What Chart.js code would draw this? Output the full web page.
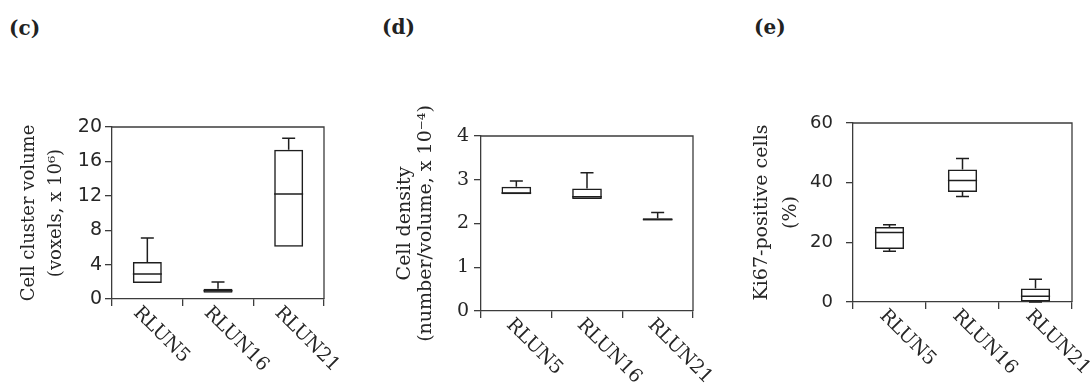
<!DOCTYPE html>
<html><head><meta charset="utf-8">
<script src="https://cdn.jsdelivr.net/npm/chart.js@4.4.1/dist/chart.umd.min.js"></script>
<style>
html,body{margin:0;padding:0;background:#fff;}
#wrap{position:relative;width:1091px;height:389px;overflow:hidden;background:#fff;}
canvas{position:absolute;left:0;top:0;}
.plabel{position:absolute;font-family:"DejaVu Serif",serif;font-weight:bold;font-size:20px;line-height:22px;color:#222;}
</style></head>
<body><div id="wrap">
<div class="plabel" style="left:9px;top:17px">(c)</div>
<div class="plabel" style="left:382px;top:16px">(d)</div>
<div class="plabel" style="left:754px;top:16px">(e)</div>
<canvas id="cC" width="1091" height="389"></canvas>
<canvas id="cD" width="1091" height="389"></canvas>
<canvas id="cE" width="1091" height="389"></canvas>
</div>
<script>
// ---- data ----
const categories = ['RLUN5', 'RLUN16', 'RLUN21'];

const volumeMin    = [1.85, 0.73, 6.07];
const volumeQ1     = [1.85, 0.73, 6.07];
const volumeMedian = [2.90, 0.95, 12.2];
const volumeQ3     = [4.30, 1.20, 17.35];
const volumeMax    = [7.10, 1.97, 18.7];
const volumeTicks  = [0, 4, 8, 12, 16, 20];

const densityMin    = [2.67, 2.56, 2.07];
const densityQ1     = [2.67, 2.56, 2.07];
const densityMedian = [2.70, 2.61, 2.09];
const densityQ3     = [2.84, 2.80, 2.12];
const densityMax    = [2.97, 3.16, 2.25];
const densityTicks  = [0, 1, 2, 3, 4];

const ki67Min    = [17.0, 35.4, 0.0];
const ki67Q1     = [17.8, 36.9, 0.2];
const ki67Median = [23.3, 40.7, 1.9];
const ki67Q3     = [25.1, 44.4, 4.5];
const ki67Max    = [25.9, 48.1, 7.6];
const ki67Ticks  = [0, 20, 40, 60];

// ---- styling ----
const SERIF = "'DejaVu Serif', serif";
const SANS = "'DejaVu Sans', sans-serif";
const AXIS_COLOR = '#3c3c3c';
const BOX_COLOR = '#1e1e1e';
const TEXT_COLOR = '#262626';

const boxPlugin = {
  id: 'boxWhiskers',
  afterDatasetsDraw(chart, args, opts) {
    const {ctx, scales: {x, y}} = chart;
    const meta = chart.getDatasetMeta(0);
    ctx.save();
    ctx.strokeStyle = BOX_COLOR;
    ctx.lineWidth = 1.5;
    meta.data.forEach((bar, i) => {
      const cx = x.getPixelForValue(i);
      const half = bar.width / 2;
      const cap = 6.5;
      const yMed = y.getPixelForValue(opts.median[i]);
      const yQ1 = y.getPixelForValue(opts.q1[i]);
      const yQ3 = y.getPixelForValue(opts.q3[i]);
      const yMax = y.getPixelForValue(opts.max[i]);
      const yMin = y.getPixelForValue(opts.min[i]);
      ctx.beginPath();
      ctx.moveTo(cx - half, yMed); ctx.lineTo(cx + half, yMed);
      ctx.moveTo(cx, yQ3); ctx.lineTo(cx, yMax);
      ctx.moveTo(cx - cap, yMax); ctx.lineTo(cx + cap, yMax);
      if (opts.min[i] < opts.q1[i]) {
        ctx.moveTo(cx, yQ1); ctx.lineTo(cx, yMin);
        ctx.moveTo(cx - cap, yMin); ctx.lineTo(cx + cap, yMin);
      }
      ctx.stroke();
    });
    ctx.restore();
  }
};

const framePlugin = {
  id: 'frameLabels',
  afterDraw(chart, args, opts) {
    const {ctx, chartArea: a, scales: {x}} = chart;
    ctx.save();
    ctx.strokeStyle = AXIS_COLOR;
    ctx.lineWidth = 1.3;
    ctx.beginPath();
    ctx.moveTo(a.left, a.top); ctx.lineTo(a.right, a.top); ctx.lineTo(a.right, a.bottom);
    ctx.stroke();
    ctx.fillStyle = TEXT_COLOR;
    ctx.font = opts.font;
    ctx.textAlign = 'left';
    ctx.textBaseline = 'middle';
    categories.forEach((c, i) => {
      const cx = x.getPixelForValue(i);
      ctx.save();
      ctx.translate(cx + opts.dx, a.bottom + opts.dy);
      ctx.rotate(Math.PI / 4);
      ctx.fillText(c, 0, 0);
      ctx.restore();
    });
    ctx.restore();
  }
};

function makePanel(id, cfg) {
  const zeroPad = s => { s.paddingTop = 0; s.paddingBottom = 0; s.paddingLeft = 0; s.paddingRight = 0; };
  return new Chart(document.getElementById(id), {
    type: 'bar',
    data: {
      labels: categories,
      datasets: [{
        data: cfg.q1.map((v, i) => [v, cfg.q3[i]]),
        backgroundColor: 'rgba(255,255,255,0)',
        borderColor: BOX_COLOR,
        borderWidth: 1.5,
        borderSkipped: false,
        categoryPercentage: 1,
        barPercentage: cfg.barPct
      }]
    },
    options: {
      responsive: false,
      devicePixelRatio: 1,
      animation: false,
      events: [],
      layout: {padding: {left: cfg.padLeft, top: cfg.area.top, right: 1091 - cfg.area.right, bottom: 389 - cfg.area.bottom - 10}},
      plugins: {
        legend: {display: false},
        tooltip: {enabled: false},
        boxWhiskers: {min: cfg.min, q1: cfg.q1, median: cfg.median, q3: cfg.q3, max: cfg.max},
        frameLabels: {font: '19px ' + SERIF, dx: cfg.labelDx, dy: cfg.labelDy}
      },
      scales: {
        x: {
          offset: true,
          afterFit(s) { s.height = 10; zeroPad(s); },
          ticks: {display: false},
          grid: {offset: true, drawOnChartArea: false, drawTicks: true, tickLength: 7, color: AXIS_COLOR, lineWidth: 1.3},
          border: {display: true, color: AXIS_COLOR, width: 1.3}
        },
        y: {
          min: cfg.ticks[0],
          max: cfg.ticks[cfg.ticks.length - 1],
          afterFit(s) { s.width = cfg.area.left - cfg.padLeft; zeroPad(s); },
          afterBuildTicks(s) { s.ticks = cfg.ticks.map(v => ({value: v})); },
          ticks: {font: {family: cfg.tickFont, size: cfg.tickSize}, color: TEXT_COLOR, padding: cfg.tickPad},
          grid: {drawOnChartArea: false, drawTicks: true, tickLength: 7, color: AXIS_COLOR, lineWidth: 1.3},
          border: {display: true, color: AXIS_COLOR, width: 1.3},
          title: {display: true, text: cfg.title, color: TEXT_COLOR, padding: 0,
                  font: {family: SERIF, size: cfg.titleSize, lineHeight: cfg.titleLH / cfg.titleSize}}
        }
      }
    },
    plugins: [boxPlugin, framePlugin]
  });
}

makePanel('cC', {
  q1: volumeQ1, q3: volumeQ3, min: volumeMin, max: volumeMax, median: volumeMedian,
  ticks: volumeTicks, area: {left: 112, right: 324, top: 127, bottom: 299},
  titleSize: 18, titleLH: 27, padLeft: 29 - 13.5, barPct: 0.41,
  title: ['Cell cluster volume', '(voxels, x 10\u2076)'],
  tickFont: SANS, tickSize: 19, tickPad: 3, labelDx: -11, labelDy: 11
});
makePanel('cD', {
  q1: densityQ1, q3: densityQ3, min: densityMin, max: densityMax, median: densityMedian,
  ticks: densityTicks, area: {left: 481, right: 693, top: 136, bottom: 311},
  titleSize: 19, titleLH: 21, padLeft: 405 - 10.5, barPct: 0.42,
  title: ['Cell density', '(number/volume, x 10\u207B\u2074)'],
  tickFont: SERIF, tickSize: 19, tickPad: 5, labelDx: -7, labelDy: 11
});
makePanel('cE', {
  q1: ki67Q1, q3: ki67Q3, min: ki67Min, max: ki67Max, median: ki67Median,
  ticks: ki67Ticks, area: {left: 853, right: 1072, top: 123, bottom: 302},
  titleSize: 19, titleLH: 29, padLeft: 762.5 - 14.5, barPct: 0.40,
  title: ['Ki67-positive cells', '(%)'],
  tickFont: SANS, tickSize: 18, tickPad: 13, labelDx: -7, labelDy: 11
});
</script>
</body></html>
